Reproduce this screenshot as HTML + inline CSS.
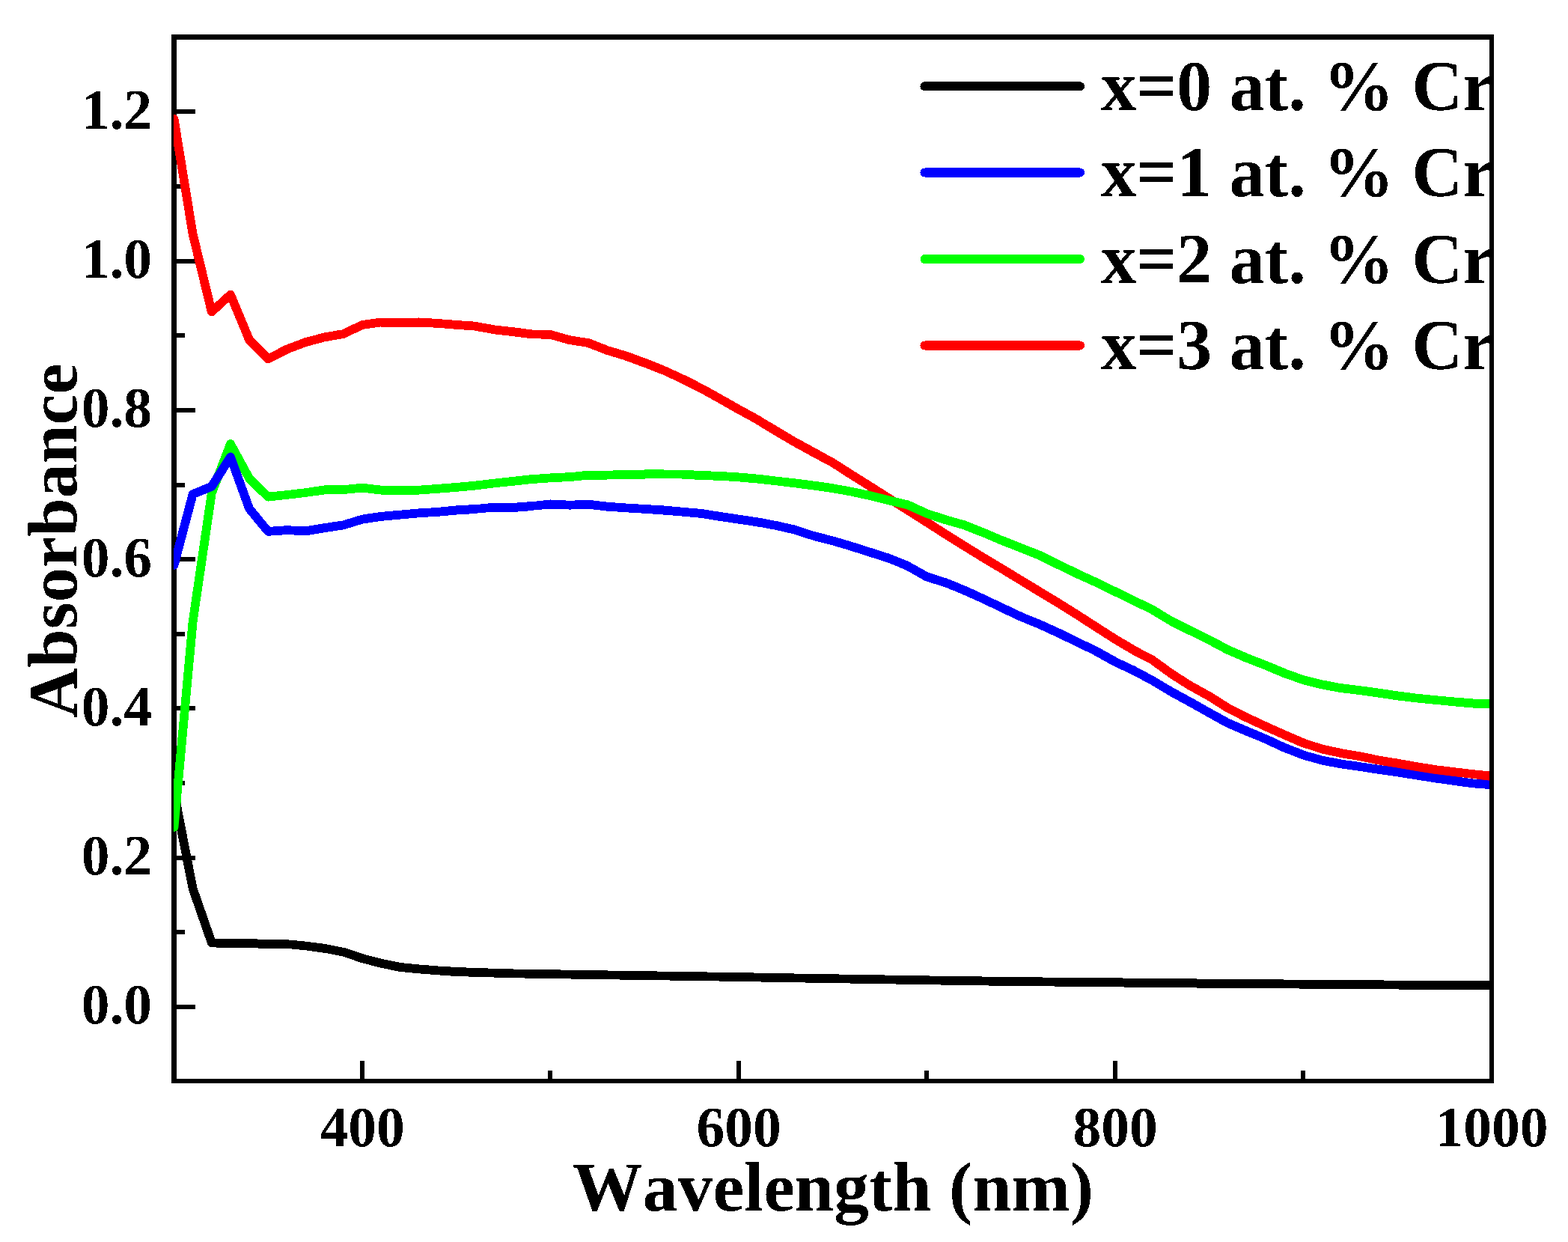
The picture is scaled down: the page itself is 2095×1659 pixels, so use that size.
<!DOCTYPE html>
<html><head><meta charset="utf-8"><title>Absorbance vs Wavelength</title>
<style>html,body{margin:0;padding:0;background:#fff;width:2095px;height:1659px;overflow:hidden}
svg{display:block} text{font-family:'Liberation Serif','Times New Roman',serif;font-weight:bold;font-kerning:none}</style></head><body>
<svg width="2095" height="1659" viewBox="0 0 2095 1659">
<defs>
<clipPath id="pc"><rect x="232" y="49.5" width="1758" height="1394.5"/></clipPath>
<clipPath id="lc"><rect x="0" y="0" width="1990" height="1659"/></clipPath>
<filter id="bin" x="0" y="0" width="2095" height="1659" filterUnits="userSpaceOnUse" color-interpolation-filters="sRGB">
<feComponentTransfer><feFuncA type="discrete" tableValues="0 1"/></feComponentTransfer>
</filter>
</defs>
<rect width="2095" height="1659" fill="#fff"/>
<g fill="#000" shape-rendering="crispEdges"><rect x="229" y="46" width="1767" height="7"/><rect x="229" y="1441" width="1767" height="6"/><rect x="229" y="46" width="7" height="1401"/><rect x="1990" y="46" width="6" height="1401"/><rect x="481" y="1417" width="6" height="25"/><rect x="984" y="1417" width="6" height="25"/><rect x="1487" y="1417" width="6" height="25"/><rect x="732" y="1430" width="6" height="12"/><rect x="1235" y="1430" width="6" height="12"/><rect x="1738" y="1430" width="6" height="12"/><rect x="235" y="1342" width="26" height="6"/><rect x="235" y="1143" width="26" height="6"/><rect x="235" y="943" width="26" height="6"/><rect x="235" y="744" width="26" height="6"/><rect x="235" y="545" width="26" height="6"/><rect x="235" y="346" width="26" height="6"/><rect x="235" y="146" width="26" height="6"/><rect x="235" y="1242" width="12" height="6"/><rect x="235" y="1043" width="12" height="6"/><rect x="235" y="844" width="12" height="6"/><rect x="235" y="645" width="12" height="6"/><rect x="235" y="445" width="12" height="6"/><rect x="235" y="246" width="12" height="6"/><rect x="235" y="47" width="12" height="6"/></g>
<g clip-path="url(#pc)"><g filter="url(#bin)" fill="none" stroke-width="11.8" stroke-linejoin="round" stroke-linecap="round">
<path d="M232.50,1058.00 L257.65,1187.00 L282.80,1259.30 L307.95,1260.30 L333.10,1259.60 L358.25,1261.50 L383.40,1261.00 L408.55,1263.50 L433.70,1266.80 L458.85,1271.70 L484.00,1280.10 L509.15,1286.70 L534.30,1291.90 L559.45,1294.40 L584.60,1296.40 L609.75,1298.00 L634.90,1298.90 L660.05,1299.60 L685.20,1300.40 L994.55,1305.20 L1339.10,1310.90 L1649.70,1314.00 L1993.00,1316.50" stroke="#000"/>
<path d="M232.50,159.00 L257.65,313.00 L282.80,416.50 L307.95,393.50 L333.10,454.00 L358.25,479.50 L383.40,466.60 L408.55,457.00 L433.70,450.40 L458.85,446.00 L484.00,434.00 L509.15,430.30 L534.30,430.80 L559.45,430.50 L584.60,431.80 L609.75,433.90 L634.90,435.70 L660.05,440.30 L685.20,443.20 L710.35,446.30 L735.50,446.90 L760.65,454.20 L785.80,458.00 L810.95,467.80 L836.10,475.40 L861.25,484.60 L886.40,494.50 L911.55,506.00 L936.70,518.70 L961.85,532.70 L987.00,546.90 L1012.15,560.70 L1037.30,575.90 L1062.45,590.80 L1087.60,604.50 L1112.75,618.10 L1137.90,634.20 L1163.05,650.00 L1188.20,666.00 L1213.35,681.70 L1238.50,697.70 L1263.65,713.80 L1288.80,729.50 L1313.95,745.00 L1339.10,760.00 L1364.25,775.30 L1389.40,790.60 L1414.55,805.80 L1439.70,821.60 L1464.85,837.80 L1490.00,853.80" stroke="#f00"/>
<path d="M232.50,1105.00 L257.65,830.00 L282.80,658.60 L307.95,593.00 L333.10,639.00 L358.25,663.70 L383.40,661.00 L408.55,658.00 L433.70,654.40 L458.85,654.10 L484.00,651.70 L509.15,654.70 L534.30,655.20 L559.45,654.70 L584.60,652.90 L609.75,650.90 L634.90,648.60 L660.05,645.50 L685.20,642.80 L710.35,640.20 L735.50,638.40 L760.65,637.20 L785.80,634.60 L810.95,634.60 L836.10,634.00 L861.25,633.50 L886.40,633.40 L911.55,633.70 L936.70,635.00 L961.85,635.80 L987.00,637.40 L1012.15,639.60 L1037.30,642.50 L1062.45,645.40 L1087.60,648.60 L1112.75,652.20 L1137.90,656.80 L1163.05,662.20 L1188.20,668.50 L1213.35,674.60 L1238.50,686.00 L1263.65,694.30 L1288.80,701.50 L1313.95,711.40 L1339.10,722.10 L1364.25,732.00 L1389.40,742.10 L1414.55,754.40 L1439.70,766.60 L1464.85,778.00 L1490.00,790.30 L1515.15,802.50 L1540.30,814.70 L1565.45,830.00 L1590.60,842.50 L1615.75,854.70 L1640.90,868.20 L1666.05,879.00 L1691.20,888.70 L1716.35,899.30 L1741.50,908.20 L1766.65,914.40 L1791.80,919.20 L1816.95,922.20 L1842.10,925.60 L1867.25,929.30 L1892.40,932.50 L1917.55,935.00 L1942.70,937.40 L1967.85,939.50 L1993.00,940.60" stroke="#0f0"/>
<path d="M232.50,755.00 L257.65,660.10 L282.80,649.70 L307.95,610.50 L333.10,679.50 L358.25,709.90 L383.40,708.10 L408.55,709.40 L433.70,705.10 L458.85,701.30 L484.00,693.70 L509.15,689.90 L534.30,687.60 L559.45,685.30 L584.60,683.80 L609.75,681.50 L634.90,680.00 L660.05,677.60 L685.20,678.00 L710.35,676.00 L735.50,673.40 L760.65,674.60 L785.80,673.70 L810.95,676.70 L836.10,678.30 L861.25,679.80 L886.40,681.50 L911.55,683.60 L936.70,685.90 L961.85,689.80 L987.00,693.60 L1012.15,697.40 L1037.30,702.00 L1062.45,707.80 L1087.60,716.00 L1112.75,722.40 L1137.90,729.80 L1163.05,737.90 L1188.20,745.90 L1213.35,756.30 L1238.50,770.50 L1263.65,778.40 L1288.80,788.60 L1313.95,800.00 L1339.10,812.00 L1364.25,823.90 L1389.40,834.10 L1414.55,845.60 L1439.70,857.80 L1464.85,870.00 L1490.00,884.00 L1515.15,895.90 L1540.30,909.30 L1565.45,924.30 L1590.60,938.00 L1615.75,952.20 L1640.90,966.00 L1666.05,976.70 L1691.20,987.10 L1716.35,998.80 L1741.50,1008.60 L1766.65,1015.60 L1791.80,1020.50 L1816.95,1024.00 L1842.10,1027.80 L1867.25,1031.50 L1892.40,1035.50 L1917.55,1039.50 L1942.70,1043.00 L1967.85,1046.30 L1993.00,1048.30" stroke="#00f"/>
<path d="M1490.00,853.80 L1515.15,868.70 L1540.30,881.90 L1565.45,900.20 L1590.60,916.20 L1615.75,930.10 L1640.90,946.00 L1666.05,958.70 L1691.20,970.30 L1716.35,981.70 L1741.50,992.50 L1766.65,1000.50 L1791.80,1006.10 L1816.95,1010.30 L1842.10,1015.50 L1867.25,1019.50 L1892.40,1024.00 L1917.55,1028.00 L1942.70,1031.00 L1967.85,1034.00 L1993.00,1036.80" stroke="#f00"/>
</g></g>
<g filter="url(#bin)" fill="#000">
<text x="203" y="1367.4" font-size="75.5" text-anchor="end">0.0</text>
<text x="203" y="1168.2" font-size="75.5" text-anchor="end">0.2</text>
<text x="203" y="968.9" font-size="75.5" text-anchor="end">0.4</text>
<text x="203" y="769.6" font-size="75.5" text-anchor="end">0.6</text>
<text x="203" y="570.4" font-size="75.5" text-anchor="end">0.8</text>
<text x="203" y="371.2" font-size="75.5" text-anchor="end">1.0</text>
<text x="203" y="171.9" font-size="75.5" text-anchor="end">1.2</text>
<text x="484.0" y="1531.3" font-size="75.5" text-anchor="middle">400</text>
<text x="987.0" y="1531.3" font-size="75.5" text-anchor="middle">600</text>
<text x="1490.0" y="1531.3" font-size="75.5" text-anchor="middle">800</text>
<text x="1993.0" y="1531.3" font-size="75.5" text-anchor="middle">1000</text>
<text x="1112.8" y="1617.3" font-size="93.9" text-anchor="middle">Wavelength (nm)</text>
<text transform="translate(102.3,722.2) rotate(-90)" font-size="92.6" text-anchor="middle">Absorbance</text>
</g>
<g clip-path="url(#lc)"><g filter="url(#bin)">
<path d="M1235.5,115.2H1443" stroke="#000" stroke-width="12" stroke-linecap="round" fill="none"/>
<text x="1471" y="147.0" font-size="94.3" fill="#000">x=0 at. % Cr</text>
<path d="M1235.5,230.6H1443" stroke="#00f" stroke-width="12" stroke-linecap="round" fill="none"/>
<text x="1471" y="262.4" font-size="94.3" fill="#000">x=1 at. % Cr</text>
<path d="M1235.5,346.0H1443" stroke="#0f0" stroke-width="12" stroke-linecap="round" fill="none"/>
<text x="1471" y="377.8" font-size="94.3" fill="#000">x=2 at. % Cr</text>
<path d="M1235.5,461.4H1443" stroke="#f00" stroke-width="12" stroke-linecap="round" fill="none"/>
<text x="1471" y="493.2" font-size="94.3" fill="#000">x=3 at. % Cr</text>
</g></g>
<rect x="1990" y="46" width="6" height="1401" fill="#000" shape-rendering="crispEdges"/>
</svg></body></html>
